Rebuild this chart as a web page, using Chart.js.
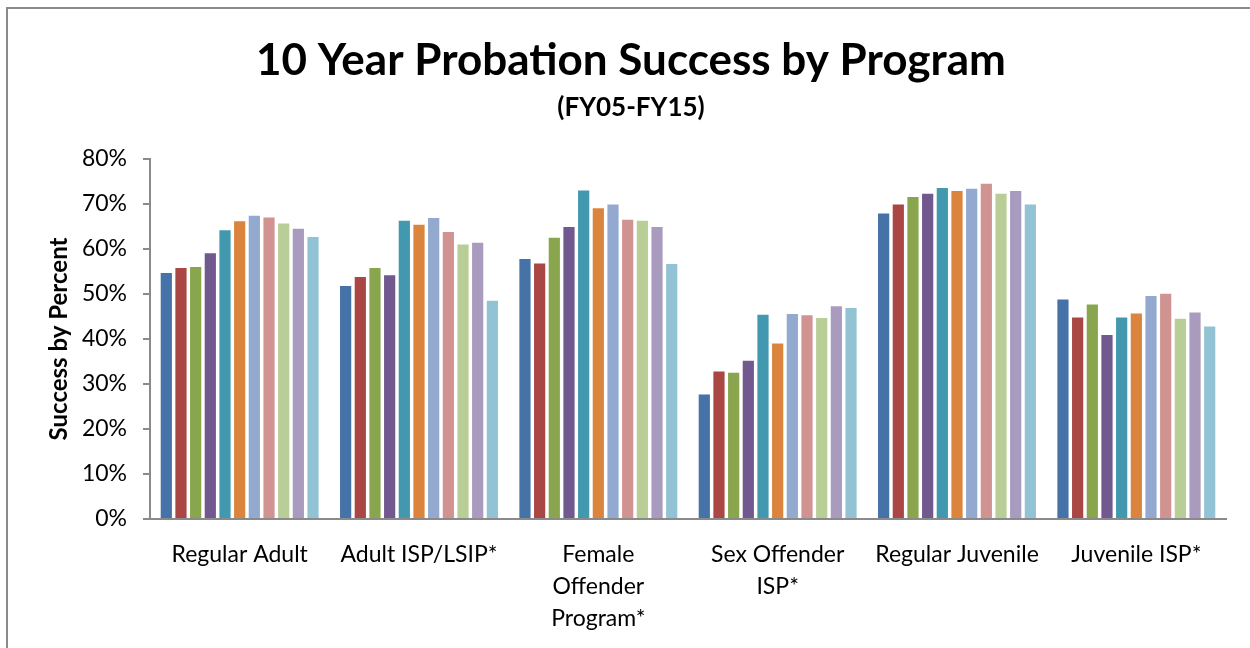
<!DOCTYPE html>
<html>
<head>
<meta charset="utf-8">
<script src="https://cdn.jsdelivr.net/npm/chart.js@4.4.0/dist/chart.umd.min.js"></script>
<style>
    html, body { margin: 0; padding: 0; background: #fff; overflow: hidden; }
    #wrap { position: relative; width: 1250px; height: 648px; }
    #frame {
        position: absolute; left: 6px; top: 7px; width: 1300px; height: 700px;
        border: 2px solid #8a8a8a; pointer-events: none;
    }
</style>
</head>
<body>
<div id="wrap">
    <canvas id="probationChart" width="1250" height="648"></canvas>
    <div id="frame"></div>
</div>
<script>
const programs = [
    'Regular Adult',
    'Adult ISP/LSIP*',
    ['Female', 'Offender', 'Program*'],
    ['Sex Offender', 'ISP*'],
    'Regular Juvenile',
    'Juvenile ISP*'
];

const years = ['FY05', 'FY06', 'FY07', 'FY08', 'FY09', 'FY10', 'FY11', 'FY12', 'FY13', 'FY14', 'FY15'];

// success % per program, one list per fiscal year
const fy05 = [54.9, 52.0, 58.0, 27.9, 68.1, 49.0];
const fy06 = [56.0, 54.0, 57.0, 33.0, 70.1, 45.0];
const fy07 = [56.2, 56.0, 62.7, 32.7, 71.8, 47.9];
const fy08 = [59.3, 54.4, 65.1, 35.4, 72.5, 41.1];
const fy09 = [64.4, 66.5, 73.2, 45.6, 73.8, 45.0];
const fy10 = [66.4, 65.6, 69.3, 39.2, 73.1, 45.9];
const fy11 = [67.6, 67.1, 70.1, 45.8, 73.6, 49.8];
const fy12 = [67.2, 64.0, 66.7, 45.5, 74.7, 50.3];
const fy13 = [65.9, 61.2, 66.5, 44.9, 72.5, 44.7];
const fy14 = [64.7, 61.6, 65.1, 47.5, 73.1, 46.1];
const fy15 = [62.9, 48.7, 56.9, 47.1, 70.1, 43.0];

const yTicks = [0, 10, 20, 30, 40, 50, 60, 70, 80];

const seriesValues = [fy05, fy06, fy07, fy08, fy09, fy10, fy11, fy12, fy13, fy14, fy15];
const seriesColors = ['#4572A7', '#AA4643', '#89A54E', '#71588F', '#4198AF', '#DB843D',
    '#93A9CF', '#D19392', '#B9CD96', '#A99BBD', '#92C3D4'];

const ctx = document.getElementById('probationChart').getContext('2d');
const chart = new Chart(ctx, {
    type: 'bar',
    data: {
        labels: programs,
        datasets: years.map((year, i) => ({
            label: year,
            data: seriesValues[i],
            backgroundColor: seriesColors[i],
            borderColor: 'rgba(255,255,255,0.55)',
            borderWidth: 1,
            barPercentage: 0.9,
            categoryPercentage: 0.9
        }))
    },
    options: {
        responsive: false,
        animation: false,
        layout: {
            padding: { left: 36, top: 0, right: 24, bottom: 0 }
        },
        plugins: {
            legend: { display: false },
            tooltip: { enabled: false },
            title: {
                display: true,
                text: '10 Year Probation Success by Program',
                color: '#000',
                font: { family: 'Lato', size: 44, weight: 'bold', lineHeight: 1.2 },
                padding: { top: 34, bottom: 0 }
            },
            subtitle: {
                display: true,
                text: '(FY05-FY15)',
                color: '#000',
                font: { family: 'Lato', size: 26, weight: 'bold', lineHeight: 1.2 },
                padding: { top: 5, bottom: 36 }
            }
        },
        scales: {
            x: {
                grid: { display: false },
                border: { display: true, color: '#8a8a8a', width: 2 },
                ticks: {
                    color: '#000',
                    padding: 12,
                    maxRotation: 0,
                    autoSkip: false,
                    font: { family: 'Lato', size: 23, lineHeight: '32px' }
                },
                afterFit: function (scale) {
                    scale.height = 129;
                }
            },
            y: {
                min: 0,
                max: 80,
                afterBuildTicks: function (scale) {
                    scale.ticks = yTicks.map(v => ({ value: v }));
                },
                grid: {
                    drawOnChartArea: false,
                    drawTicks: true,
                    tickLength: 7,
                    color: '#8a8a8a',
                    lineWidth: 2
                },
                border: { display: true, color: '#8a8a8a', width: 2 },
                ticks: {
                    color: '#000',
                    padding: 16,
                    font: { family: 'Lato', size: 23 },
                    callback: function (value) {
                        return value + '%';
                    }
                },
                title: {
                    display: true,
                    text: 'Success by Percent',
                    color: '#000',
                    font: { family: 'Lato', size: 24, weight: 'bold', lineHeight: 1.2 },
                    padding: { top: 9, bottom: 0 }
                },
                afterFit: function (scale) {
                    scale.width = 114;
                }
            }
        }
    }
});
</script>
</body>
</html>
